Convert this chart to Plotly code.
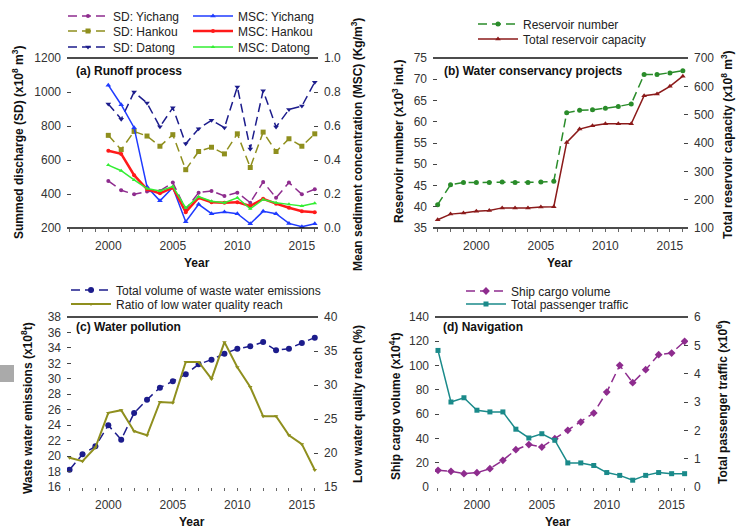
import plotly.graph_objects as go

W, H = 736, 531

# ---------------- data ----------------
years_a = list(range(2000, 2017))
sd_yichang = [477, 422, 398, 414, 418, 467, 309, 408, 418, 388, 408, 349, 471, 378, 467, 398, 428]
sd_hankou = [745, 661, 768, 741, 681, 749, 543, 650, 675, 636, 754, 556, 764, 650, 725, 681, 754]
sd_datong = [930, 840, 1000, 935, 795, 908, 695, 784, 834, 790, 1030, 665, 1008, 794, 897, 917, 1058]
msc_yichang = [0.84, 0.725, 0.59, 0.242, 0.16, 0.238, 0.037, 0.139, 0.084, 0.094, 0.084, 0.025, 0.098, 0.084, 0.027, 0.007, 0.025]
msc_hankou = [0.454, 0.436, 0.311, 0.228, 0.204, 0.238, 0.093, 0.178, 0.152, 0.149, 0.152, 0.129, 0.172, 0.143, 0.119, 0.099, 0.093]
msc_datong = [0.370, 0.337, 0.283, 0.232, 0.218, 0.244, 0.119, 0.184, 0.158, 0.149, 0.178, 0.113, 0.168, 0.149, 0.139, 0.129, 0.145]

years = list(range(1997, 2017))
reservoir_number = [40.5, 45.2, 45.7, 45.7, 45.7, 45.8, 45.7, 45.7, 45.8, 46.0, 62.1, 62.7, 62.8, 63.2, 63.6, 64.2, 71.1, 71.1, 71.5, 72.0]
reservoir_capacity = [129, 149, 153, 159, 162, 171, 171, 171, 174, 175, 402, 449, 461, 468, 468, 468, 567, 573, 600, 636]

waste_water = [18.24, 20.23, 21.26, 23.98, 22.13, 25.58, 27.30, 28.86, 29.68, 30.58, 31.88, 32.48, 33.26, 33.90, 34.20, 34.77, 33.69, 33.90, 34.64, 35.33]
low_quality_ratio = [19.3, 18.8, 20.8, 25.9, 26.3, 23.2, 22.6, 27.5, 27.4, 33.4, 33.4, 30.9, 36.3, 32.6, 29.7, 25.4, 25.4, 22.6, 21.3, 17.5]

ship_cargo = [13.7, 12.9, 11.0, 11.8, 15.1, 22.0, 30.7, 34.9, 32.9, 39.8, 46.7, 53.5, 60.9, 78.2, 100.2, 85.9, 96.6, 109.0, 110.3, 120.0]
passenger = [4.82, 3.00, 3.15, 2.71, 2.65, 2.65, 2.04, 1.73, 1.88, 1.65, 0.85, 0.85, 0.76, 0.51, 0.41, 0.24, 0.41, 0.51, 0.47, 0.47]

year_ticks = list(range(1997, 2017))
year_text = [str(y) if y % 5 == 0 else "" for y in year_ticks]

FONT = "Liberation Sans, Arial, sans-serif"


def px(x):
    return x / W


def py(y):
    return 1 - y / H


fig = go.Figure()

# ---------------- traces ----------------
def add(x, y, name, color, xa, ya, legend, dash="solid", symbol="circle", size=5, width=1.5):
    fig.add_trace(go.Scatter(
        x=x, y=y, name=name, mode="lines+markers",
        line=dict(color=color, width=width, dash=dash),
        marker=dict(symbol=symbol, size=size, color=color),
        xaxis=xa, yaxis=ya, legend=legend, showlegend=True))

DASH = "9px,5px"
add(years_a, sd_yichang, "SD: Yichang", "#8E2C8E", "x", "y", "legend", DASH, "circle", 4)
add(years_a, sd_hankou, "SD: Hankou", "#8F8F1E", "x", "y", "legend2", DASH, "square", 5)
add(years_a, sd_datong, "SD: Datong", "#1C1C8C", "x", "y", "legend3", DASH, "triangle-down", 5)
add(years_a, msc_yichang, "MSC: Yichang", "#1F3BFF", "x", "y2", "legend4", "solid", "triangle-up", 5)
add(years_a, msc_hankou, "MSC: Hankou", "#FF1A1A", "x", "y2", "legend5", "solid", "circle", 4, 2.5)
add(years_a, msc_datong, "MSC: Datong", "#33EE33", "x", "y2", "legend6", "solid", "triangle-up", 4)

add(years, reservoir_number, "Reservoir number", "#2A8C2A", "x2", "y3", "legend7", DASH, "circle", 5)
add(years, reservoir_capacity, "Total reservoir capacity", "#8B1A1A", "x2", "y4", "legend8", "solid", "triangle-up", 5)

add(years, waste_water, "Total volume of waste water emissions", "#1C1C8C", "x3", "y5", "legend9", DASH, "circle", 6)
add(years, low_quality_ratio, "Ratio of low water quality reach", "#8F8F1E", "x3", "y6", "legend10", "solid", "triangle-down", 4, 2)

add(years, ship_cargo, "Ship cargo volume", "#8E2C8E", "x4", "y7", "legend11", DASH, "diamond", 6)
add(years, passenger, "Total passenger traffic", "#1A8A8A", "x4", "y8", "legend12", "solid", "square", 5)

# ---------------- axes ----------------
tickfont = dict(family=FONT, size=12, color="#333")

def xax(domain, rng):
    return dict(domain=domain, range=rng, tickvals=year_ticks, ticktext=year_text,
                ticks="outside", ticklen=3, tickcolor="#666", tickwidth=1,
                showline=False, showgrid=False, zeroline=False, tickfont=tickfont,
                ticklabelstandoff=4)

def yax(domain, rng, dtick, anchor, side="left", overlay=None, fmt=None):
    d = dict(domain=domain, range=rng, dtick=dtick, tick0=rng[0], ticks="inside", ticklen=4,
             tickcolor="#444", showline=False, showgrid=False, zeroline=False,
             tickfont=tickfont, anchor=anchor, side=side, ticklabelstandoff=5)
    if overlay:
        d["overlaying"] = overlay
    if fmt:
        d["tickformat"] = fmt
    return d

xa_a = [px(67), px(318)]
xa_b = [px(433), px(688)]
xa_c = [px(67), px(318)]
xa_d = [px(435), px(688)]
ya_top = [py(228), py(58)]
ya_bot = [py(487), py(317)]

fig.update_layout(
    xaxis=xax(xa_a, [1996.8, 2016.25]) | dict(anchor="y"),
    yaxis=yax(ya_top, [200, 1200], 200, "x"),
    yaxis2=yax(ya_top, [0, 1.0], 0.2, "x", "right", "y", ".1f"),
    xaxis2=xax(xa_b, [1996.64, 2016.4]) | dict(anchor="y3"),
    yaxis3=yax(ya_top, [35, 75], 5, "x2"),
    yaxis4=yax(ya_top, [100, 700], 100, "x2", "right", "y3"),
    xaxis3=xax(xa_c, [1996.8, 2016.25]) | dict(anchor="y5"),
    yaxis5=yax(ya_bot, [16, 38], 2, "x3"),
    yaxis6=yax(ya_bot, [15, 40], 5, "x3", "right", "y5"),
    xaxis4=xax(xa_d, [1996.77, 2016.26]) | dict(anchor="y7"),
    yaxis7=yax(ya_bot, [0, 140], 20, "x4"),
    yaxis8=yax(ya_bot, [0, 6], 1, "x4", "right", "y7"),
)

# ---------------- legends (one per item for exact placement) ----------------
leg_items = {
    "legend": (67, 16), "legend2": (67, 31), "legend3": (67, 47),
    "legend4": (192, 16), "legend5": (192, 31), "legend6": (192, 47),
    "legend7": (477, 24), "legend8": (477, 39),
    "legend9": (70, 290), "legend10": (70, 304),
    "legend11": (465, 291), "legend12": (465, 304),
}
for key, (lx, ly) in leg_items.items():
    fig.layout[key] = dict(x=px(lx - 4), y=py(ly), xanchor="left", yanchor="middle",
                           bgcolor="rgba(0,0,0,0)", borderwidth=0, itemwidth=40,
                           font=dict(family=FONT, size=12, color="#222"))

# ---------------- frame lines ----------------
shapes = []
for xr, yr in [("x", "y"), ("x2", "y3"), ("x3", "y5"), ("x4", "y7")]:
    shapes.append(dict(type="line", xref=f"{xr} domain", yref=f"{yr} domain",
                       x0=0, x1=1, y0=1, y1=1, line=dict(color="#111", width=1.5)))
for xr, yr in [("x", "y"), ("x2", "y3")]:
    shapes.append(dict(type="line", xref=f"{xr} domain", yref=f"{yr} domain",
                       x0=0, x1=1, y0=0, y1=0, line=dict(color="#111", width=1.5)))
shapes.append(dict(type="rect", xref="paper", yref="paper", x0=0, x1=px(14),
                   y0=py(382), y1=py(365), fillcolor="#aaaaaa", line=dict(width=0)))

# ---------------- annotations ----------------
ann = []
bold = dict(family=FONT, size=12, color="#111")

def text(x, y, s, angle=0, xanchor="center"):
    ann.append(dict(x=px(x), y=py(y), xref="paper", yref="paper", text=s, showarrow=False,
                    textangle=angle, xanchor=xanchor, yanchor="middle", font=bold))

text(74, 71, "<b>(a) Runoff process</b>", xanchor="left")
text(442, 71, "<b>(b) Water conservancy projects</b>", xanchor="left")
text(74, 327, "<b>(c) Water pollution</b>", xanchor="left")
text(441, 327, "<b>(d) Navigation</b>", xanchor="left")

for x, y in [(197, 263), (560, 263), (192, 522), (558, 522)]:
    text(x, y, "<b>Year</b>")

text(18, 143, "<b>Summed discharge (SD) (x10<sup>8</sup> m<sup>3</sup>)</b>", -90)
text(357, 145, "<b>Mean sediment concentration (MSC) (Kg/m<sup>3</sup>)</b>", -90)
text(398, 142, "<b>Reservoir number (x10<sup>3</sup> ind.)</b>", -90)
text(727, 145, "<b>Total reservoir capacity (x10<sup>8</sup> m<sup>3</sup>)</b>", -90)
text(27, 408, "<b>Waste water emissions (x10<sup>8</sup>t)</b>", -90)
text(358, 404, "<b>Low water quality reach (%)</b>", -90)
text(395, 407, "<b>Ship cargo volume (x10<sup>4</sup>t)</b>", -90)
text(722, 402, "<b>Total passenger traffic (x10<sup>6</sup>)</b>", -90)

fig.update_layout(
    width=W, height=H, margin=dict(l=0, r=0, t=0, b=0, autoexpand=False),
    paper_bgcolor="white", plot_bgcolor="white", showlegend=True,
    shapes=shapes, annotations=ann,
    font=dict(family=FONT, size=12, color="#333"),
)

fig.write_html("out.html", config={"displayModeBar": False},
               post_script="document.body.style.margin='0';document.body.style.padding='0';")
